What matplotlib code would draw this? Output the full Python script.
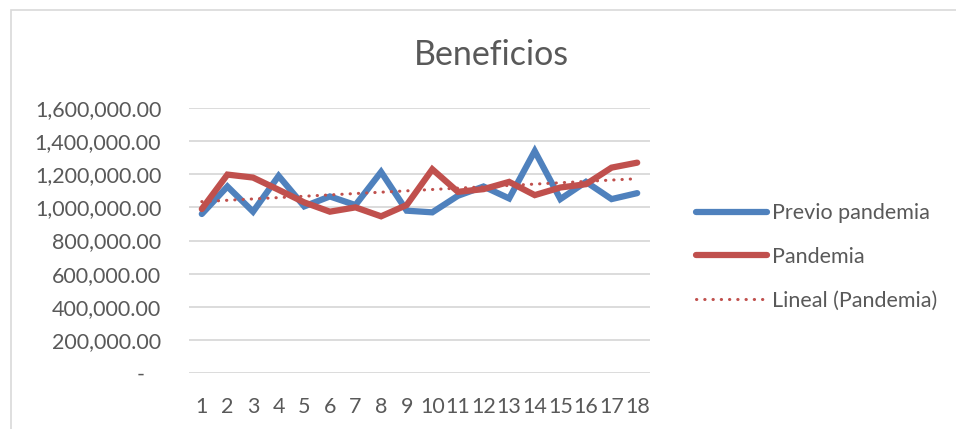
import numpy as np
import matplotlib.pyplot as plt
from matplotlib.patches import Rectangle
from matplotlib.ticker import FuncFormatter

plt.rcParams['font.family'] = ['Lato', 'DejaVu Sans']

# Data
periods = list(range(1, 19))
previo = [960000, 1126000, 974000, 1190000, 1006000, 1066000, 1014000, 1214000, 980000,
          970000, 1070000, 1126000, 1054000, 1340000, 1050000, 1154000, 1050000, 1086000]
pandemia = [990000, 1198000, 1180000, 1106000, 1030000, 974000, 1000000, 946000, 1014000,
            1230000, 1094000, 1110000, 1154000, 1074000, 1120000, 1140000, 1240000, 1270000]

blue = '#4F81BD'
red = '#C0504D'
grey_txt = '#595959'

# linear trend of the Pandemia series (Excel "Lineal")
x = np.arange(len(periods))
coef = np.polyfit(x, pandemia, 1)
trend = np.polyval(coef, x)

fig = plt.figure(figsize=(9.56, 4.29), dpi=100)
ax = fig.add_axes([189 / 956, 1 - 373 / 429, (650 - 189) / 956, (373 - 108) / 429])

ax.plot(x, previo, color=blue, lw=4.5, solid_joinstyle='miter', solid_capstyle='round', label='Previo pandemia')
ax.plot(x, pandemia, color=red, lw=4.5, solid_joinstyle='miter', solid_capstyle='round', label='Pandemia')
ax.plot(x, trend, color=red, lw=2.2, linestyle=(0, (0.1, 2.6)), dash_capstyle='round',
        label='Lineal (Pandemia)')

ax.set_xlim(-0.5, len(periods) - 0.5)
ax.set_ylim(0, 1600000)
ax.set_yticks(np.arange(0, 1600001, 200000))
ax.yaxis.set_major_formatter(FuncFormatter(lambda v, p: '-   ' if v == 0 else f'{v:,.2f}'))
ax.set_xticks(x)
ax.set_xticklabels([str(p) for p in periods])
ax.grid(axis='y', color='#D9D9D9', lw=1.3)
ax.set_axisbelow(True)
for s in ax.spines.values():
    s.set_visible(False)
ax.tick_params(axis='both', length=0, labelsize=15.5, labelcolor=grey_txt)
ax.tick_params(axis='y', pad=20)
ax.tick_params(axis='x', pad=17)

fig.text(491 / 956, 1 - 55 / 429, 'Beneficios', ha='center', va='center', fontsize=24.5, color=grey_txt)

leg = fig.legend(loc='center left', bbox_to_anchor=(677 / 956, 1 - 257 / 429), frameon=False,
                 fontsize=15.5, labelcolor=grey_txt, handlelength=3.3, handletextpad=0.2,
                 labelspacing=1.1)

# outer chart frame (partially cropped in the reference)
fig.patches.append(Rectangle((11 / 956, -0.1), 1.2, 1 - 10 / 429 + 0.1, transform=fig.transFigure,
                             fill=False, edgecolor='#D9D9D9', lw=1.2))

fig.savefig('out.png', dpi=100)
